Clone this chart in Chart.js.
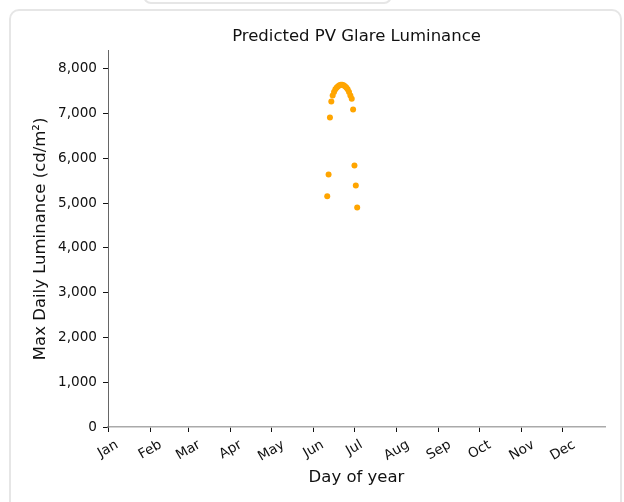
<!DOCTYPE html>
<html>
<head>
<meta charset="utf-8">
<script src="https://cdn.jsdelivr.net/npm/chart.js@4.4.1/dist/chart.umd.min.js"></script>
<style>
  html, body { margin: 0; padding: 0; background: #fff; overflow: hidden; }
  body { width: 624px; height: 502px; position: relative; }
  .tab { position: absolute; left: 143px; top: -20px; width: 245px; height: 20px;
         border: 2px solid #e6e6e6; border-radius: 8px; }
  .card { position: absolute; left: 9px; top: 9px; width: 609px; height: 520px;
          border: 2px solid #e6e6e6; border-radius: 10px; }
  #chart { position: absolute; left: 0; top: 0; }
</style>
</head>
<body>
<div class="tab"></div>
<div class="card"></div>
<canvas id="chart" width="624" height="502"></canvas>
<script>
// day of year for each point, and the max luminance on that day
var days = [162, 163, 164, 165, 166, 167, 168, 169, 170, 171, 172, 173, 174, 175, 176, 177, 178, 179, 180, 181, 182, 183, 184];
var luminance = [5150, 5640, 6910, 7270, 7400, 7480, 7540, 7580, 7610, 7630, 7640, 7640, 7630, 7610, 7580, 7540, 7480, 7400, 7330, 7090, 5840, 5390, 4900];

var monthLabels = ['Jan', 'Feb', 'Mar', 'Apr', 'May', 'Jun', 'Jul', 'Aug', 'Sep', 'Oct', 'Nov', 'Dec'];
var monthStartDays = [1, 32, 60, 91, 121, 152, 182, 213, 244, 274, 305, 335];
var yTicks = [0, 1000, 2000, 3000, 4000, 5000, 6000, 7000, 8000];

var points = days.map(function (d, i) { return { x: d, y: luminance[i] }; });

// matplotlib style month labels: rotated 30deg, centred under the tick
var monthLabelPlugin = {
    id: 'monthLabels',
    afterDraw: function (chart) {
        var xs = chart.scales.x;
        var ctx = chart.ctx;
        ctx.save();
        ctx.font = '13.6px "DejaVu Sans"';
        ctx.fillStyle = '#111';
        ctx.textAlign = 'center';
        ctx.textBaseline = 'middle';
        var top = xs.top + 10;
        monthLabels.forEach(function (lbl, i) {
            var x = xs.getPixelForValue(monthStartDays[i]);
            var w = ctx.measureText(lbl).width;
            var h = 16;
            var cy = top + (w * 0.5 + h * 0.866) / 2;
            ctx.save();
            ctx.translate(x, cy);
            ctx.rotate(-Math.PI / 6);
            ctx.fillText(lbl, 0, 0);
            ctx.restore();
        });
        ctx.restore();
    }
};

var ctx = document.getElementById('chart').getContext('2d');
var chart = new Chart(ctx, {
    type: 'scatter',
    data: {
        datasets: [{
            label: 'Luminance',
            data: points,
            backgroundColor: '#ffa500',
            borderWidth: 0,
            pointRadius: 3
        }]
    },
    options: {
        responsive: false,
        animation: false,
        layout: { padding: { top: 10, left: 0, right: 19, bottom: 0 } },
        plugins: {
            legend: { display: false },
            tooltip: { enabled: false },
            title: {
                display: true,
                text: 'Predicted PV Glare Luminance',
                fullSize: false,
                color: '#111',
                font: { family: 'DejaVu Sans', size: 16.5, weight: 'normal' },
                padding: { top: 17, bottom: 4 }
            }
        },
        scales: {
            x: {
                type: 'linear',
                min: 1,
                max: 366,
                afterBuildTicks: function (scale) {
                    scale.ticks = monthStartDays.map(function (v) { return { value: v }; });
                },
                afterFit: function (scale) { scale.height = 75; },
                ticks: { display: false },
                grid: { drawOnChartArea: false, tickLength: 5, tickColor: '#111', tickWidth: 1 },
                border: { color: '#aaa', width: 1.6 },
                title: {
                    display: true,
                    text: 'Day of year',
                    color: '#111',
                    font: { family: 'DejaVu Sans', size: 16.5 },
                    padding: { top: 0, bottom: 14 }
                }
            },
            y: {
                min: 0,
                max: 8400,
                afterBuildTicks: function (scale) {
                    scale.ticks = yTicks.map(function (v) { return { value: v }; });
                },
                afterFit: function (scale) { scale.width = 108; },
                ticks: {
                    color: '#111',
                    padding: 6,
                    font: { family: 'DejaVu Sans', size: 13.6 },
                    callback: function (v) { return v.toLocaleString('en-US'); }
                },
                grid: { drawOnChartArea: false, tickLength: 5, tickColor: '#111', tickWidth: 1 },
                border: { color: '#666', width: 1 },
                title: {
                    display: true,
                    text: 'Max Daily Luminance (cd/m²)',
                    color: '#111',
                    font: { family: 'DejaVu Sans', size: 16.5 },
                    padding: { top: 31, bottom: 0 }
                }
            }
        }
    },
    plugins: [monthLabelPlugin]
});
</script>
</body>
</html>
